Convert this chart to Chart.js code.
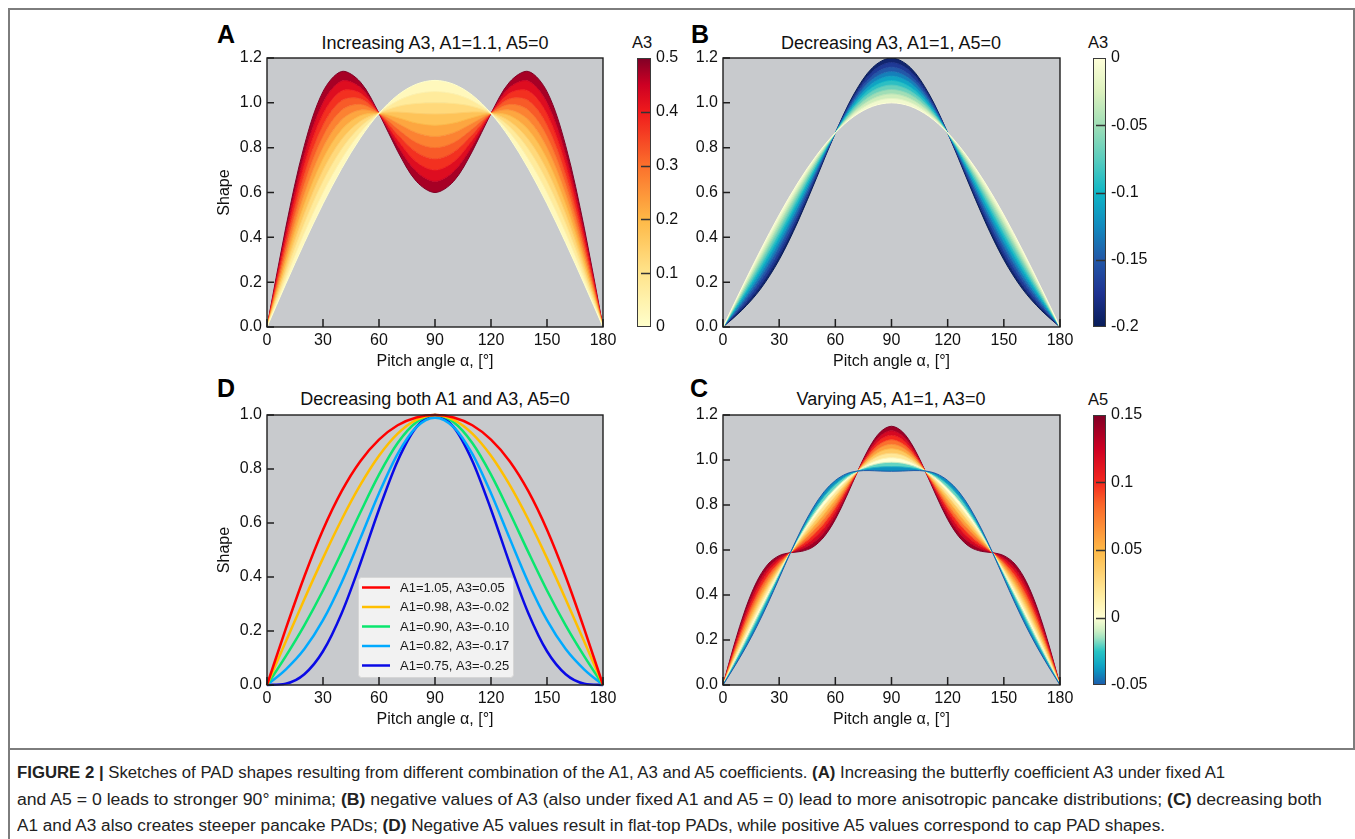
<!DOCTYPE html>
<html>
<head>
<meta charset="utf-8">
<script src="https://cdn.jsdelivr.net/npm/chart.js@4.4.1/dist/chart.umd.min.js"></script>
<style>
  body { margin: 0; width: 1355px; height: 839px; position: relative; overflow: hidden; background: #fff;
         font-family: "Liberation Sans", Arial, sans-serif; color: #111; }
  canvas { position: absolute; }
  .lt { position: absolute; font-size: 25px; font-weight: bold; line-height: 25px; color: #000; }
  .ttl { position: absolute; font-size: 18px; line-height: 20px; white-space: nowrap; transform: translateX(-50%); }
  .cbl { position: absolute; font-size: 16.5px; line-height: 20px; }
  .cap { position: absolute; left: 17px; font-family: "Liberation Sans Narrow", "Liberation Sans", sans-serif;
         font-size: 16px; line-height: 20px; white-space: nowrap; transform-origin: 0 0; color: #222; }
  .ln { position: absolute; background: #7d7d7d; }
</style>
</head>
<body>
<div class="ln" style="left:8px;top:8px;width:1347px;height:1.5px"></div>
<div class="ln" style="left:8px;top:8px;width:1.5px;height:831px"></div>
<div class="ln" style="left:1353px;top:8px;width:1.5px;height:741px"></div>
<div class="ln" style="left:8px;top:748px;width:1347px;height:1.5px"></div>

<div class="lt" style="left:217px;top:22px">A</div>
<div class="lt" style="left:691px;top:22px">B</div>
<div class="lt" style="left:217px;top:376px">D</div>
<div class="lt" style="left:690px;top:376px">C</div>
<div class="ttl" style="left:435px;top:33px">Increasing A3, A1=1.1, A5=0</div>
<div class="ttl" style="left:891px;top:33px">Decreasing A3, A1=1, A5=0</div>
<div class="ttl" style="left:435px;top:389px">Decreasing both A1 and A3, A5=0</div>
<div class="ttl" style="left:891px;top:389px">Varying A5, A1=1, A3=0</div>
<div class="cbl" style="left:632px;top:32px">A3</div>
<div class="cbl" style="left:1088px;top:32px">A3</div>
<div class="cbl" style="left:1088px;top:389px">A5</div>

<canvas id="pA" width="428" height="337" style="left:195px;top:43px"></canvas>
<canvas id="pB" width="429" height="337" style="left:651px;top:43px"></canvas>
<canvas id="pD" width="428" height="338" style="left:195px;top:400px"></canvas>
<canvas id="pC" width="429" height="338" style="left:651px;top:400px"></canvas>
<canvas id="cbA" width="80" height="293" style="left:620px;top:46px"></canvas>
<canvas id="cbB" width="80" height="293" style="left:1076px;top:46px"></canvas>
<canvas id="cbC" width="80" height="294" style="left:1076px;top:403px"></canvas>

<div class="cap" data-w="1208" style="top:763px"><b>FIGURE 2 |</b> Sketches of PAD shapes resulting from different combination of the A1, A3 and A5 coefficients. <b>(A)</b> Increasing the butterfly coefficient A3 under fixed A1</div>
<div class="cap" data-w="1305" style="top:790px">and A5 = 0 leads to stronger 90° minima; <b>(B)</b> negative values of A3 (also under fixed A1 and A5 = 0) lead to more anisotropic pancake distributions; <b>(C)</b> decreasing both</div>
<div class="cap" data-w="1148" style="top:816px">A1 and A3 also creates steeper pancake PADs; <b>(D)</b> Negative A5 values result in flat-top PADs, while positive A5 values correspond to cap PAD shapes.</div>

<script>
// pitch angles (deg)
const anglesAB = [0,10,20,30,40,50,60,70,80,90,100,110,120,130,140,150,160,170,180];
const anglesC = [0,6,12,18,24,30,36,42,48,54,60,66,72,78,84,90,96,102,108,114,120,126,132,138,144,150,156,162,168,174,180];

// panel A: A1=1.1, A3 = 0 .. 0.5
const levelsA = [0,0.05,0.1,0.15,0.2,0.25,0.3,0.35,0.4,0.45,0.5];
const shapeA00 = [0,0.191,0.376,0.550,0.707,0.843,0.953,1.034,1.083,1.100,1.083,1.034,0.953,0.843,0.707,0.550,0.376,0.191,0];
const shapeA05 = [0,0.216,0.420,0.600,0.750,0.868,0.953,1.009,1.040,1.050,1.040,1.009,0.953,0.868,0.750,0.600,0.420,0.216,0];
const shapeA10 = [0,0.241,0.463,0.650,0.794,0.893,0.953,0.984,0.997,1.000,0.997,0.984,0.953,0.893,0.794,0.650,0.463,0.241,0];
const shapeA15 = [0,0.266,0.506,0.700,0.837,0.918,0.953,0.959,0.953,0.950,0.953,0.959,0.953,0.918,0.837,0.700,0.506,0.266,0];
const shapeA20 = [0,0.291,0.549,0.750,0.880,0.943,0.953,0.934,0.910,0.900,0.910,0.934,0.953,0.943,0.880,0.750,0.549,0.291,0];
const shapeA25 = [0,0.316,0.593,0.800,0.924,0.968,0.953,0.909,0.867,0.850,0.867,0.909,0.953,0.968,0.924,0.800,0.593,0.316,0];
const shapeA30 = [0,0.341,0.636,0.850,0.967,0.993,0.953,0.884,0.823,0.800,0.823,0.884,0.953,0.993,0.967,0.850,0.636,0.341,0];
const shapeA35 = [0,0.366,0.679,0.900,1.010,1.018,0.953,0.859,0.780,0.750,0.780,0.859,0.953,1.018,1.010,0.900,0.679,0.366,0];
const shapeA40 = [0,0.391,0.723,0.950,1.053,1.043,0.953,0.834,0.737,0.700,0.737,0.834,0.953,1.043,1.053,0.950,0.723,0.391,0];
const shapeA45 = [0,0.416,0.766,1.000,1.097,1.068,0.953,0.809,0.694,0.650,0.694,0.809,0.953,1.068,1.097,1.000,0.766,0.416,0];
const shapeA50 = [0,0.441,0.809,1.050,1.140,1.093,0.953,0.784,0.650,0.600,0.650,0.784,0.953,1.093,1.140,1.050,0.809,0.441,0];

// panel B: A1=1, A3 = 0 .. -0.2
const levelsB = [0,-0.02,-0.04,-0.06,-0.08,-0.1,-0.12,-0.14,-0.16,-0.18,-0.2];
const shapeB00 = [0,0.174,0.342,0.500,0.643,0.766,0.866,0.940,0.985,1.000,0.985,0.940,0.866,0.766,0.643,0.500,0.342,0.174,0];
const shapeB02 = [0,0.164,0.325,0.480,0.625,0.756,0.866,0.950,1.002,1.020,1.002,0.950,0.866,0.756,0.625,0.480,0.325,0.164,0];
const shapeB04 = [0,0.154,0.307,0.460,0.608,0.746,0.866,0.960,1.019,1.040,1.019,0.960,0.866,0.746,0.608,0.460,0.307,0.154,0];
const shapeB06 = [0,0.144,0.290,0.440,0.591,0.736,0.866,0.970,1.037,1.060,1.037,0.970,0.866,0.736,0.591,0.440,0.290,0.144,0];
const shapeB08 = [0,0.134,0.273,0.420,0.574,0.726,0.866,0.980,1.054,1.080,1.054,0.980,0.866,0.726,0.574,0.420,0.273,0.134,0];
const shapeB10 = [0,0.124,0.255,0.400,0.556,0.716,0.866,0.990,1.071,1.100,1.071,0.990,0.866,0.716,0.556,0.400,0.255,0.124,0];
const shapeB12 = [0,0.114,0.238,0.380,0.539,0.706,0.866,1.000,1.089,1.120,1.089,1.000,0.866,0.706,0.539,0.380,0.238,0.114,0];
const shapeB14 = [0,0.104,0.221,0.360,0.522,0.696,0.866,1.010,1.106,1.140,1.106,1.010,0.866,0.696,0.522,0.360,0.221,0.104,0];
const shapeB16 = [0,0.094,0.204,0.340,0.504,0.686,0.866,1.020,1.123,1.160,1.123,1.020,0.866,0.686,0.504,0.340,0.204,0.094,0];
const shapeB18 = [0,0.084,0.186,0.320,0.487,0.676,0.866,1.030,1.141,1.180,1.141,1.030,0.866,0.676,0.487,0.320,0.186,0.084,0];
const shapeB20 = [0,0.074,0.169,0.300,0.470,0.666,0.866,1.040,1.158,1.200,1.158,1.040,0.866,0.666,0.470,0.300,0.169,0.074,0];

// panel C: A1=1, A5 = -0.05 .. 0.15
const levelsC = [-0.05,-0.03,-0.01,0.01,0.03,0.05,0.07,0.09,0.11,0.13,0.15];
const shapeCm05 = [0,0.080,0.165,0.259,0.363,0.475,0.588,0.694,0.786,0.859,0.909,0.939,0.951,0.953,0.951,0.950,0.951,0.953,0.951,0.939,0.909,0.859,0.786,0.694,0.588,0.475,0.363,0.259,0.165,0.080,0];
const shapeCm03 = [0,0.090,0.182,0.279,0.381,0.485,0.588,0.684,0.769,0.839,0.892,0.929,0.951,0.963,0.969,0.970,0.969,0.963,0.951,0.929,0.892,0.839,0.769,0.684,0.588,0.485,0.381,0.279,0.182,0.090,0];
const shapeCm01 = [0,0.100,0.199,0.299,0.398,0.495,0.588,0.674,0.752,0.819,0.875,0.919,0.951,0.973,0.986,0.990,0.986,0.973,0.951,0.919,0.875,0.819,0.752,0.674,0.588,0.495,0.398,0.299,0.199,0.100,0];
const shapeCp01 = [0,0.110,0.217,0.319,0.415,0.505,0.588,0.664,0.734,0.799,0.857,0.909,0.951,0.983,1.003,1.010,1.003,0.983,0.951,0.909,0.857,0.799,0.734,0.664,0.588,0.505,0.415,0.319,0.217,0.110,0];
const shapeCp03 = [0,0.120,0.234,0.339,0.433,0.515,0.588,0.654,0.717,0.779,0.840,0.899,0.951,0.993,1.021,1.030,1.021,0.993,0.951,0.899,0.840,0.779,0.717,0.654,0.588,0.515,0.433,0.339,0.234,0.120,0];
const shapeCp05 = [0,0.130,0.251,0.359,0.450,0.525,0.588,0.644,0.700,0.759,0.823,0.889,0.951,1.003,1.038,1.050,1.038,1.003,0.951,0.889,0.823,0.759,0.700,0.644,0.588,0.525,0.450,0.359,0.251,0.130,0];
const shapeCp07 = [0,0.140,0.269,0.379,0.467,0.535,0.588,0.634,0.683,0.739,0.805,0.879,0.951,1.013,1.055,1.070,1.055,1.013,0.951,0.879,0.805,0.739,0.683,0.634,0.588,0.535,0.467,0.379,0.269,0.140,0];
const shapeCp09 = [0,0.150,0.286,0.399,0.485,0.545,0.588,0.624,0.665,0.719,0.788,0.869,0.951,1.023,1.072,1.090,1.072,1.023,0.951,0.869,0.788,0.719,0.665,0.624,0.588,0.545,0.485,0.399,0.286,0.150,0];
const shapeCp11 = [0,0.160,0.303,0.419,0.502,0.555,0.588,0.614,0.648,0.699,0.771,0.859,0.951,1.033,1.090,1.110,1.090,1.033,0.951,0.859,0.771,0.699,0.648,0.614,0.588,0.555,0.502,0.419,0.303,0.160,0];
const shapeCp13 = [0,0.170,0.320,0.439,0.519,0.565,0.588,0.604,0.631,0.679,0.753,0.849,0.951,1.043,1.107,1.130,1.107,1.043,0.951,0.849,0.753,0.679,0.631,0.604,0.588,0.565,0.519,0.439,0.320,0.170,0];
const shapeCp15 = [0,0.180,0.338,0.459,0.537,0.575,0.588,0.594,0.613,0.659,0.736,0.839,0.951,1.053,1.124,1.150,1.124,1.053,0.951,0.839,0.736,0.659,0.613,0.594,0.588,0.575,0.537,0.459,0.338,0.180,0];

// panel D: decreasing both A1 and A3
const labelsD = ["A1=1.05, A3=0.05", "A1=0.98, A3=-0.02", "A1=0.90, A3=-0.10", "A1=0.82, A3=-0.17", "A1=0.75, A3=-0.25"];
const shapeD1 = [0,0.207,0.402,0.575,0.718,0.829,0.909,0.962,0.991,1.000,0.991,0.962,0.909,0.829,0.718,0.575,0.402,0.207,0];
const shapeD2 = [0,0.160,0.318,0.470,0.613,0.741,0.849,0.931,0.982,1.000,0.982,0.931,0.849,0.741,0.613,0.470,0.318,0.160,0];
const shapeD3 = [0,0.106,0.221,0.350,0.492,0.639,0.779,0.896,0.973,1.000,0.973,0.896,0.779,0.639,0.492,0.350,0.221,0.106,0];
const shapeD4 = [0,0.057,0.133,0.240,0.380,0.543,0.710,0.856,0.955,0.990,0.955,0.856,0.710,0.543,0.380,0.240,0.133,0.057,0];
const shapeD5 = [0,0.005,0.040,0.125,0.266,0.450,0.650,0.830,0.955,1.000,0.955,0.830,0.650,0.450,0.266,0.125,0.040,0.005,0];

// colour bar ticks
const cbTicksA = [0,0.1,0.2,0.3,0.4,0.5];
const cbTicksB = [-0.2,-0.15,-0.1,-0.05,0];
const cbTicksC = [-0.05,0,0.05,0.1,0.15];

const PLOT_BG = "rgb(200,202,205)";
const colorsD = ["#ff0000", "#ffbf00", "#0ae66e", "#00aaff", "#0a0ae6"];

const STOPS_A = [[0,[255,255,204]],[0.2,[255,228,140]],[0.4,[254,184,70]],[0.6,[251,112,44]],[0.8,[240,26,28]],[0.9,[205,0,35]],[1,[128,0,38]]];
const STOPS_B = [[0,[8,29,88]],[0.125,[30,50,145]],[0.25,[34,88,168]],[0.375,[18,138,190]],[0.5,[15,182,198]],[0.625,[90,205,190]],[0.75,[160,222,182]],[0.875,[220,241,190]],[1,[255,255,217]]];
const STOPS_C = [[0,[28,90,170]],[0.0625,[10,158,196]],[0.125,[40,196,196]],[0.1875,[190,235,192]],[0.25,[255,255,212]],[0.333,[255,236,160]],[0.5,[254,184,70]],[0.667,[251,104,42]],[0.75,[244,40,30]],[0.875,[205,0,35]],[1,[128,0,38]]];

Chart.defaults.font.family = '"Liberation Sans", Arial, sans-serif';
Chart.defaults.color = "#111";

function cmap(stops, t) {
  t = Math.max(0, Math.min(1, t));
  for (let i = 1; i < stops.length; i++) {
    if (t <= stops[i][0]) {
      const [t0, c0] = stops[i - 1], [t1, c1] = stops[i];
      const f = (t - t0) / (t1 - t0);
      const c = c0.map((v, k) => Math.round(v + (c1[k] - v) * f));
      return "rgb(" + c.join(",") + ")";
    }
  }
  return "rgb(" + stops[stops.length - 1][1].join(",") + ")";
}

function bandSets(xs, curves, levels, lo, hi, stops) {
  return curves.map((ys, i) => {
    const t = (levels[i] - lo) / (hi - lo);
    const tm = i ? ((levels[i] + levels[i - 1]) / 2 - lo) / (hi - lo) : t;
    return {
      data: xs.map((x, j) => ({ x: x, y: ys[j] })),
      borderColor: cmap(stops, t),
      backgroundColor: cmap(stops, tm),
      borderWidth: 1,
      pointRadius: 0,
      tension: 0.33,
      fill: i ? "-1" : false,
    };
  });
}

// grey plot area, black frame, inward ticks, optional boxed legend
const panelDeco = {
  id: "panelDeco",
  beforeDraw(c) {
    const a = c.chartArea;
    c.ctx.save();
    c.ctx.fillStyle = PLOT_BG;
    c.ctx.fillRect(a.left, a.top, a.width, a.height);
    c.ctx.restore();
  },
  afterDraw(c, args, opts) {
    const { ctx, chartArea: a, scales } = c;
    ctx.save();
    if (opts.legend) {
      const bx = a.left + 91, by = a.bottom - 108, w = 155, h = 100;
      ctx.fillStyle = "#f2f2f2";
      ctx.strokeStyle = "#d6d6d6";
      ctx.lineWidth = 1;
      ctx.beginPath();
      ctx.roundRect(bx + 0.5, by + 0.5, w, h, 3);
      ctx.fill();
      ctx.stroke();
      ctx.font = '13px "Liberation Sans", Arial, sans-serif';
      ctx.textBaseline = "middle";
      c.data.datasets.forEach((ds, i) => {
        const y = by + 10.5 + i * 19.5;
        ctx.strokeStyle = ds.borderColor;
        ctx.lineWidth = 2.5;
        ctx.beginPath();
        ctx.moveTo(bx + 4, y);
        ctx.lineTo(bx + 32, y);
        ctx.stroke();
        ctx.fillStyle = "#1a1a1a";
        ctx.fillText(ds.label, bx + 42, y + 0.5);
      });
    }
    ctx.strokeStyle = "#1e1e1e";
    ctx.lineWidth = 1.4;
    ctx.strokeRect(a.left, a.top, a.width, a.height);
    ctx.lineWidth = 1.5;
    ctx.beginPath();
    scales.x.ticks.forEach(t => {
      const x = scales.x.getPixelForValue(t.value);
      ctx.moveTo(x, a.bottom);
      ctx.lineTo(x, a.bottom - 8);
    });
    scales.y.ticks.forEach(t => {
      const y = scales.y.getPixelForValue(t.value);
      ctx.moveTo(a.left, y);
      ctx.lineTo(a.left + 7, y);
    });
    ctx.stroke();
    ctx.restore();
  },
};

function panelScales(yMax, showYTitle) {
  const plain = { display: false, drawTicks: false };
  return {
    x: {
      type: "linear", min: 0, max: 180,
      ticks: { stepSize: 30, padding: 4, maxRotation: 0, font: { size: 16 } },
      grid: plain, border: { display: false },
      title: { display: true, text: "Pitch angle α, [°]", font: { size: 16 }, padding: { top: 0, bottom: 9 } },
      afterFit: s => { s.height = 53; s.paddingLeft = 0; s.paddingRight = 0; },
    },
    y: {
      min: 0, max: yMax,
      ticks: { stepSize: 0.2, padding: 5, font: { size: 16 }, callback: v => v.toFixed(1) },
      grid: plain, border: { display: false },
      title: { display: showYTitle, text: "Shape", font: { size: 16 }, padding: { top: 20, bottom: 0 } },
      afterFit: s => { s.width = 72; s.paddingTop = 0; s.paddingBottom = 0; },
    },
  };
}

function makePanel(id, datasets, yMax, showYTitle, legend) {
  return new Chart(document.getElementById(id), {
    type: "line",
    data: { datasets: datasets },
    options: {
      responsive: false,
      animation: false,
      events: [],
      layout: { padding: { top: 15, right: 20, left: 0, bottom: 0 } },
      plugins: { legend: { display: false }, tooltip: { enabled: false }, panelDeco: { legend: legend } },
      scales: panelScales(yMax, showYTitle),
    },
    plugins: [panelDeco],
  });
}

// colour bar: one floating bar with a gradient, ticks drawn inside
const cbDeco = {
  id: "cbDeco",
  afterDraw(c) {
    const { ctx, chartArea: a, scales } = c;
    const ys = scales.y;
    ctx.save();
    ctx.strokeStyle = "#333";
    ctx.lineWidth = 1.3;
    ctx.beginPath();
    ys.ticks.forEach(t => {
      if (t.value === ys.min || t.value === ys.max) return;
      const y = Math.round(ys.getPixelForValue(t.value)) + 0.5;
      ctx.moveTo(a.right, y);
      ctx.lineTo(a.right - 10, y);
    });
    ctx.stroke();
    ctx.lineWidth = 1;
    ctx.strokeStyle = "#3a3a3a";
    ctx.strokeRect(a.left + 0.5, a.top + 0.5, a.width - 1, a.height - 1);
    ctx.restore();
  },
};

function makeColorbar(id, lo, hi, tickVals, stops, axisW) {
  return new Chart(document.getElementById(id), {
    type: "bar",
    data: {
      labels: [""],
      datasets: [{
        data: [[lo, hi]],
        borderWidth: 0,
        barPercentage: 1,
        categoryPercentage: 1,
        backgroundColor: ctx => {
          const a = ctx.chart.chartArea;
          if (!a) return "transparent";
          const g = ctx.chart.ctx.createLinearGradient(0, a.bottom, 0, a.top);
          for (let i = 0; i <= 40; i++) g.addColorStop(i / 40, cmap(stops, i / 40));
          return g;
        },
      }],
    },
    options: {
      responsive: false,
      animation: false,
      events: [],
      layout: { padding: { left: 17, top: 12, bottom: 12, right: 0 } },
      plugins: { legend: { display: false }, tooltip: { enabled: false } },
      scales: {
        x: { display: false },
        y: {
          position: "right", min: lo, max: hi,
          afterBuildTicks: s => { s.ticks = tickVals.map(v => ({ value: v })); },
          ticks: { padding: 5, font: { size: 16 }, callback: v => String(v) },
          grid: { display: false, drawTicks: false }, border: { display: false },
          afterFit: s => { s.width = axisW; s.paddingTop = 0; s.paddingBottom = 0; },
        },
      },
    },
    plugins: [cbDeco],
  });
}

const curvesA = [shapeA00, shapeA05, shapeA10, shapeA15, shapeA20, shapeA25, shapeA30, shapeA35, shapeA40, shapeA45, shapeA50];
const curvesB = [shapeB00, shapeB02, shapeB04, shapeB06, shapeB08, shapeB10, shapeB12, shapeB14, shapeB16, shapeB18, shapeB20];
const curvesC = [shapeCm05, shapeCm03, shapeCm01, shapeCp01, shapeCp03, shapeCp05, shapeCp07, shapeCp09, shapeCp11, shapeCp13, shapeCp15];
const curvesD = [shapeD1, shapeD2, shapeD3, shapeD4, shapeD5];

makePanel("pA", bandSets(anglesAB, curvesA, levelsA, 0, 0.5, STOPS_A), 1.2, true, false);
makePanel("pB", bandSets(anglesAB, curvesB, levelsB, -0.2, 0, STOPS_B), 1.2, false, false);
makePanel("pC", bandSets(anglesC, curvesC, levelsC, -0.05, 0.15, STOPS_C), 1.2, false, false);
makePanel("pD", curvesD.map((ys, i) => ({
  label: labelsD[i],
  data: anglesAB.map((x, j) => ({ x: x, y: ys[j] })),
  borderColor: colorsD[i],
  borderWidth: 2.5,
  pointRadius: 0,
  cubicInterpolationMode: "monotone",
  clip: 3,
})), 1.0, true, true);

makeColorbar("cbA", 0, 0.5, cbTicksA, STOPS_A, 49);
makeColorbar("cbB", -0.2, 0, cbTicksB, STOPS_B, 50);
makeColorbar("cbC", -0.05, 0.15, cbTicksC, STOPS_C, 50);

// squeeze caption lines to the width they take in the figure
document.querySelectorAll(".cap").forEach(el => {
  const target = +el.dataset.w;
  el.style.transform = "scaleX(" + (target / el.scrollWidth) + ")";
});
</script>
</body>
</html>
